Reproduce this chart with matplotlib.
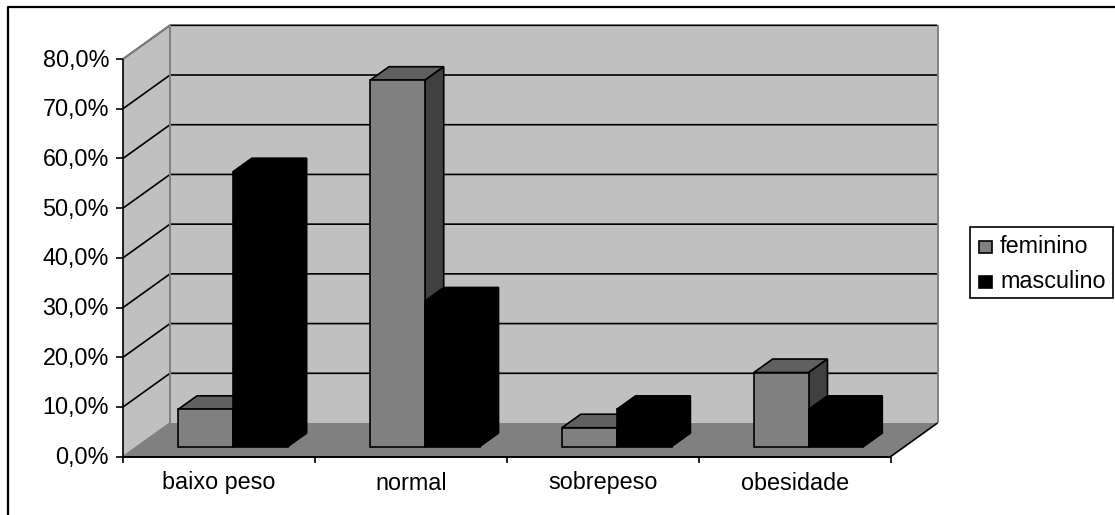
# -*- coding: utf-8 -*-
# colunas 3D estilo Excel, desenhadas com polygons porque o mplot3d nao da esta projecao
import matplotlib
matplotlib.use('Agg')
import matplotlib.pyplot as plt
from matplotlib.patches import Polygon, Rectangle

plt.rcParams['font.family'] = ['Liberation Sans', 'DejaVu Sans']

categorias = ['baixo peso', 'normal', 'sobrepeso', 'obesidade']
feminino = [7.5, 73.7, 3.8, 14.9]
masculino = [55.3, 29.3, 7.5, 7.5]
ticks_y = [0, 10, 20, 30, 40, 50, 60, 70, 80]
series = ['feminino', 'masculino']

W, H = 1115, 515
X0, X1 = 123.0, 890.5     # eixo x, plano da frente
Y0, Y80 = 456.7, 59.0     # 0% e 80%, plano da frente
DX, DY = 47.0, -33.7      # profundidade total
FS = 16.8
LW = 1.2

CINZA = '#c0c0c0'
CHAO = '#808080'
FRENTE = '#808080'
TOPO = '#606060'
LADO = '#404040'


def py(v):
    return Y0 + (Y80 - Y0) * v / 80.0


fig = plt.figure(figsize=(W / 100, H / 100), dpi=100)
ax = fig.add_axes([0, 0, 1, 1])
ax.set_xlim(0, W)
ax.set_ylim(H, 0)
ax.axis('off')


def poly(pts, fc, ec='k', lw=LW, z=2):
    ax.add_patch(Polygon(pts, closed=True, facecolor=fc, edgecolor=ec, linewidth=lw, zorder=z, joinstyle='miter'))


def linha(xs, ys, c='k', lw=LW, z=3):
    ax.plot(xs, ys, color=c, linewidth=lw, zorder=z, solid_capstyle='butt')


# moldura
linha([8, 8, W], [H, 6.5, 6.5], lw=1.6, z=1)

# paredes e chao
poly([(X0 + DX, py(80) + DY), (X1 + DX, py(80) + DY), (X1 + DX, py(0) + DY), (X0 + DX, py(0) + DY)], CINZA, ec='none')
poly([(X0, py(0)), (X0 + DX, py(0) + DY), (X0 + DX, py(80) + DY), (X0, py(80))], CINZA, ec='none')
poly([(X0, py(0)), (X1, py(0)), (X1 + DX, py(0) + DY), (X0 + DX, py(0) + DY)], CHAO, ec='none')

# grade
for t in ticks_y[1:]:
    linha([X0, X0 + DX, X1 + DX], [py(t), py(t) + DY, py(t) + DY])
linha([X0 + DX, X0 + DX], [py(0) + DY, py(80) + DY], c='#808080', lw=1.4)
linha([X1 + DX, X1 + DX], [py(0) + DY, py(80) + DY], c='#808080', lw=1.4)
linha([X0, X0 + DX], [py(0), py(0) + DY], c='#808080')
linha([X0, X0 + DX], [py(80), py(80) + DY], c='#808080', lw=1.4)
linha([X1, X1 + DX], [py(0), py(0) + DY], z=3)

# barras
passo = (X1 - X0) / len(categorias)
larg = passo / 3.5
folga = larg * 0.75
desl = 0.3
prof = 0.4


def barra(xe, v, cf, ct, cl):
    # xe = canto esquerdo na frente, antes de empurrar para a profundidade da barra
    x = xe + DX * desl
    base = py(0) + DY * desl
    topo = base - (py(0) - py(v))
    dx, dy = DX * prof, DY * prof
    poly([(x, topo), (x + dx, topo + dy), (x + larg + dx, topo + dy), (x + larg, topo)], ct, z=4)
    poly([(x + larg, topo), (x + larg + dx, topo + dy), (x + larg + dx, base + dy), (x + larg, base)], cl, z=4)
    poly([(x, topo), (x + larg, topo), (x + larg, base), (x, base)], cf, z=4)


for i in range(len(categorias)):
    xi = X0 + i * passo + folga
    barra(xi, feminino[i], FRENTE, TOPO, LADO)
    barra(xi + larg, masculino[i], 'k', 'k', 'k')

# eixos
linha([X0, X0], [py(0), py(80)], z=5)
linha([X0, X1], [py(0), py(0)], lw=1.4, z=5)
for t in ticks_y:
    linha([X0 - 7, X0], [py(t), py(t)], z=5)
    ax.text(X0 - 14, py(t) + 1, ('%.1f' % t).replace('.', ',') + '%',
            ha='right', va='center', fontsize=FS, color='k')
for i in range(len(categorias) + 1):
    xt = X0 + i * passo
    linha([xt, xt], [py(0), py(0) + 6], z=5)
for i, c in enumerate(categorias):
    ax.text(X0 + (i + 0.5) * passo, 483, c, ha='center', va='center', fontsize=FS, color='k')

# legenda
ax.add_patch(Rectangle((970, 226.7), 142.7, 71, facecolor='white', edgecolor='k', linewidth=1.2, zorder=6))
cores = [FRENTE, 'k']
for s, c, yk in zip(series, cores, [246.7, 282.0]):
    ax.add_patch(Rectangle((979, yk - 6), 13, 12, facecolor=c, edgecolor='k', linewidth=LW, zorder=7))
    ax.text(1000, yk, s, ha='left', va='center', fontsize=FS, color='k', zorder=7)

fig.savefig('out.png', dpi=100, facecolor='white')
plt.close()
